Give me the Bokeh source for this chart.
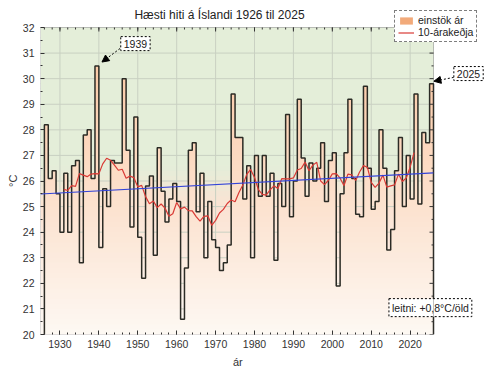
import numpy as np
import pandas as pd
from bokeh.plotting import figure
from bokeh.models import (Range1d, FixedTicker, Label, Arrow, NormalHead, Title,
                          BoxAnnotation, Legend, LegendItem)
from bokeh.embed import file_html
from bokeh.resources import INLINE

# ---------------- data ----------------
years = list(range(1926, 2026))
tmax = [28.2, 26.1, 26.4, 25.5, 24.0, 26.3, 24.0, 26.6, 26.8, 22.8,   # 1926-1935
        27.8, 28.0, 26.1, 30.5, 23.4, 25.7, 25.0, 26.8, 26.7, 26.7,   # 1936-1945
        30.0, 27.2, 24.2, 28.5, 23.8, 22.2, 25.8, 26.2, 23.1, 27.3,   # 1946-1955
        25.6, 24.4, 25.3, 25.9, 25.2, 20.6, 22.6, 27.2, 27.5, 24.8,   # 1956-1965
        26.3, 23.0, 25.2, 23.7, 23.4, 22.5, 22.8, 23.5, 29.4, 27.7,   # 1966-1975
        27.7, 25.3, 26.6, 23.0, 27.0, 25.4, 27.0, 25.4, 26.3, 22.9,   # 1976-1985
        25.9, 25.0, 28.6, 24.6, 26.0, 29.2, 26.9, 25.4, 26.7, 26.0,   # 1986-1995
        26.5, 27.5, 25.2, 26.8, 27.1, 21.9, 25.5, 27.1, 29.2, 26.1,   # 1996-2005
        24.7, 24.6, 29.7, 26.5, 24.9, 25.2, 28.0, 26.5, 23.3, 24.1,   # 2006-2015
        26.4, 27.7, 25.0, 27.0, 25.3, 29.4, 25.1, 27.9, 27.5, 29.8]   # 2016-2025
title_text = "Hæsti hiti á Íslandi 1926 til 2025"
x_label = "ár"
y_label = "°C"
legend_labels = ["einstök ár", "10-árakeðja"]
trend_label = "leitni: +0,8°C/öld"
callout_years = [1939, 2025]
window = 10
x_ticks = list(range(1930, 2021, 10))
x_minor = list(range(1926, 2026, 2))
y_ticks = list(range(20, 33))
y_minor = [v + 0.5 for v in range(20, 32)]

FONT = "Liberation Sans"
GREEN = (228, 238, 217)

X0, X1 = 1925, 2026          # visible plotting box
Y0, Y1 = 20, 32
BOX_W, BOX_H = 393, 307      # box size in pixels (left 40, top 27)
FRAME_W = 500 - 40 - 10      # frame is widened/heightened so callouts and legend are not clipped
FRAME_H = 375 - 3 - 41
px_per_x = BOX_W / (X1 - X0)
px_per_y = BOX_H / (Y1 - Y0)
X_END = X0 + FRAME_W / px_per_x
Y_END = Y0 + FRAME_H / px_per_y


def sx(px):   # canvas pixel -> data x
    return X0 + (px - 40) / px_per_x


def sy(py):   # canvas pixel -> data y
    return Y1 - (py - 27) / px_per_y


def mix(c1, c2, t):
    return "#%02x%02x%02x" % tuple(int(round(a + (b - a) * t)) for a, b in zip(c1, c2))


def hex2rgb(h):
    h = h.lstrip("#")
    return tuple(int(h[i:i + 2], 16) for i in (0, 2, 4))


p = figure(width=500, height=375, output_backend="svg", toolbar_location=None,
           x_range=Range1d(X0, X_END), y_range=Range1d(Y0, Y_END),
           min_border_left=40, min_border_right=10, min_border_top=3, min_border_bottom=41,
           background_fill_color="white", border_fill_color="white",
           outline_line_color=None)
p.xgrid.visible = False
p.ygrid.visible = False

# ---- background gradient (green on top, peach -> white lower down) ----
bg_stops = [(32.0, GREEN), (26.6, GREEN), (25.0, hex2rgb("#fbe3d3")), (20.0, hex2rgb("#fdf8f4"))]


def bg_color(v):
    for (v1, c1), (v2, c2) in zip(bg_stops[:-1], bg_stops[1:]):
        if v2 <= v <= v1:
            return mix(c1, c2, (v1 - v) / (v1 - v2))
    return mix(bg_stops[-1][1], bg_stops[-1][1], 0)


step = 0.2
for lo in np.arange(Y0, Y1, step):
    p.add_layout(BoxAnnotation(left=X0, right=X1, bottom=lo, top=min(lo + step + 0.03, Y1),
                               fill_color=bg_color(lo + step / 2),
                               fill_alpha=1, line_alpha=0, level="image"))

# ---- grid ----
p.segment(x0=x_ticks, x1=x_ticks, y0=Y0, y1=Y1, line_color="#c9d0c2", line_width=1)
p.segment(x0=X0, x1=X1, y0=y_ticks[1:-1], y1=y_ticks[1:-1], line_color="#c9d0c2", line_width=1)

# ---- filled step area with vertical gradient ----
x_steps = years + [years[-1] + 1]
vals = np.array(tmax + [tmax[-1]])
top_c = hex2rgb("#fbc8a4")
bot_c = hex2rgb("#fdf8f3")
for lo in np.arange(Y0, max(tmax), step):
    hi = lo + step
    y2 = np.clip(vals, lo, hi + 0.03)
    t = (31.0 - (lo + step / 2)) / 11.0
    p.varea_step(x=x_steps, y1=lo, y2=y2, step_mode="after",
                 fill_color=mix(top_c, bot_c, min(max(t, 0), 1)))

# zero-height area: only used for the legend swatch colour
swatch = p.varea(x=years, y1=Y0, y2=Y0, fill_color="#f2aa7a")

# ---- step outline ----
ox = [years[0]] + years + [years[-1] + 1]
oy = [float(Y0)] + tmax + [float(Y0)]
p.step(x=ox, y=oy, mode="after", line_color="#2b2b25", line_width=1.5)

# ---- 10-year running mean ----
rm = pd.Series(tmax).rolling(window).mean().to_numpy()
rm_x = np.array([y - (window // 2 - 1) for y in years])
mask = ~np.isnan(rm)
red = p.line(x=rm_x[mask], y=rm[mask], line_color="#d93a35", line_width=1.2)

# ---- linear trend ----
coef = np.polyfit(np.array(years) + 0.5, tmax, 1)
tx = np.array([X0, X1])
p.line(x=tx, y=np.polyval(coef, tx), line_color="#3344d8", line_width=1.2)

# ---- tick marks on top and right edges (mirrors of the axes) ----
tk = 4 / px_per_y
tkm = 2 / px_per_y
p.segment(x0=x_ticks, x1=x_ticks, y0=Y1 - tk, y1=Y1, line_color="#333333")
p.segment(x0=x_minor, x1=x_minor, y0=Y1 - tkm, y1=Y1, line_color="#333333")
p.segment(x0=X1 - 4 / px_per_x, x1=X1, y0=y_ticks, y1=y_ticks, line_color="#333333")
p.segment(x0=X1 - 2 / px_per_x, x1=X1, y0=y_minor, y1=y_minor, line_color="#333333")

# ---- frame of the plotting box ----
p.add_layout(BoxAnnotation(left=X0, right=X1, bottom=Y0, top=Y1, fill_alpha=0,
                           line_color="#333333", line_width=1, level="overlay"))

# ---- axes ----
p.xaxis.ticker = FixedTicker(ticks=x_ticks, minor_ticks=x_minor)
p.yaxis.ticker = FixedTicker(ticks=y_ticks, minor_ticks=y_minor)
for ax in (p.xaxis[0], p.yaxis[0]):
    ax.major_tick_in = 4
    ax.major_tick_out = 0
    ax.minor_tick_in = 2
    ax.minor_tick_out = 0
    ax.axis_line_color = None
    ax.major_tick_line_color = "#333333"
    ax.minor_tick_line_color = "#333333"
    ax.major_label_text_font = FONT
    ax.major_label_text_font_size = "10.5px"
    ax.major_label_text_color = "#333333"
p.xaxis.major_label_standoff = 5
p.yaxis.major_label_standoff = 6

# axis titles, centred on the plotting box (not on the enlarged frame)
p.add_layout(Title(text=x_label, align="left", offset=(BOX_W / 2) - 4, text_font=FONT,
                   text_font_size="11px", text_font_style="normal", text_color="#333333",
                   standoff=6), "below")
p.add_layout(Title(text=y_label, align="left", offset=(375 - 41) - (27 + BOX_H / 2) - 6,
                   text_font=FONT, text_font_size="11px", text_font_style="normal",
                   text_color="#333333", standoff=2), "left")

# ---- title ----
p.add_layout(Label(x=sx(219), y=sy(14.5), text=title_text, text_align="center",
                   text_baseline="middle", text_font=FONT, text_font_size="12px",
                   text_color="#222222"))

# ---- legend (overlapping the top-right corner of the box) ----
legend = Legend(items=[LegendItem(label=legend_labels[0], renderers=[swatch]),
                       LegendItem(label=legend_labels[1], renderers=[red])],
                location=(354, 292), border_line_color="black", border_line_dash="2 2",
                background_fill_color="white", background_fill_alpha=1,
                label_text_font=FONT, label_text_font_size="10.5px", label_text_color="#222222",
                glyph_width=16, glyph_height=9, label_height=11, spacing=0, padding=3,
                margin=0, label_standoff=4)
p.add_layout(legend)


# ---- callouts ----
def callout(text, x, y, ax_, ay_, bx, by):
    p.add_layout(Arrow(end=NormalHead(size=7, fill_color="black", line_color="black"),
                       x_start=ax_, y_start=ay_, x_end=bx, y_end=by,
                       line_dash="2 2", line_color="black", line_width=1))
    p.add_layout(Label(x=x, y=y, text=text, text_align="center", text_baseline="middle",
                       text_font=FONT, text_font_size="10.5px", text_color="#222222",
                       border_line_color="black", border_line_dash="2 2",
                       background_fill_color="white", padding=3))


i39 = years.index(callout_years[0])
callout(str(callout_years[0]), callout_years[0] + 10.4, 31.37,
        callout_years[0] + 6.45, 31.18, callout_years[0] + 1.8, tmax[i39] + 0.15)
i25 = years.index(callout_years[1])
callout(str(callout_years[1]), callout_years[1] + 10.0, 30.2,
        callout_years[1] + 6.2, 30.05, callout_years[1] + 1.1, tmax[i25] + 0.1)

p.add_layout(Label(x=2025.2, y=21.05, text=trend_label, text_align="center", text_baseline="middle",
                   text_font=FONT, text_font_size="10.5px", text_color="#222222",
                   border_line_color="black", border_line_dash="2 2",
                   background_fill_color="white", padding=3))

open("out.html", "w").write(file_html(p, INLINE))
